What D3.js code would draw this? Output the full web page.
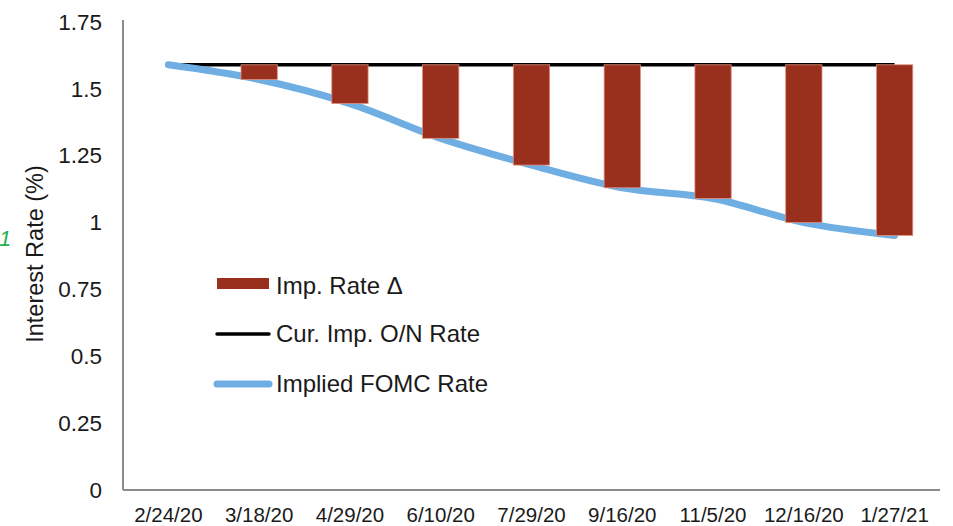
<!DOCTYPE html>
<html>
<head>
<meta charset="utf-8">
<script src="https://cdn.jsdelivr.net/npm/d3@7"></script>
<style>
  html, body { margin: 0; padding: 0; background: #fff; }
  svg { display: block; font-family: "Liberation Sans", Arial, sans-serif; }
</style>
</head>
<body>
<svg id="chart" width="953" height="526"></svg>
<script>
// Meeting dates on the category axis
const meetingDates = ["2/24/20", "3/18/20", "4/29/20", "6/10/20", "7/29/20",
                      "9/16/20", "11/5/20", "12/16/20", "1/27/21"];
// Current implied overnight rate (flat reference line)
const currentRate = [1.59, 1.59, 1.59, 1.59, 1.59, 1.59, 1.59, 1.59, 1.59];
// Implied FOMC rate after each meeting
const impliedRate = [1.59, 1.535, 1.445, 1.315, 1.215, 1.13, 1.09, 1.0, 0.952];
// Implied change versus the current rate
const rateChange = [0, -0.055, -0.145, -0.275, -0.375, -0.46, -0.5, -0.59, -0.638];
// Value-axis ticks
const yTicks = [0, 0.25, 0.5, 0.75, 1, 1.25, 1.5, 1.75];
const yTickLabels = ["0", "0.25", "0.5", "0.75", "1", "1.25", "1.5", "1.75"];

const svg = d3.select("#chart");
const plotLeft = 123, plotRight = 940, plotTop = 22, plotBottom = 490;

const x = d3.scaleBand().domain(meetingDates).range([plotLeft, plotRight])
  .paddingInner(0.6).paddingOuter(0.3);
const y = d3.scaleLinear().domain([0, 1.75]).range([plotBottom, plotTop]);

const axisColor = "#8c8c8c";
const textColor = "#1a1a1a";

// Value axis
const yAxis = svg.append("g").attr("transform", `translate(${plotLeft},0)`)
  .call(d3.axisLeft(y).tickValues(yTicks)
    .tickFormat((d, i) => yTickLabels[i]).tickSize(0).tickPadding(21));
yAxis.select(".domain").attr("stroke", axisColor).attr("stroke-width", 2)
  .attr("d", `M0,${plotTop - 2}V${plotBottom}`);
yAxis.selectAll("text").attr("font-size", 22.5).attr("fill", textColor)
  .attr("font-family", "Liberation Sans, Arial, sans-serif");

// Category axis
const xAxis = svg.append("g").attr("transform", `translate(0,${plotBottom})`)
  .call(d3.axisBottom(x).tickSize(0).tickPadding(17));
xAxis.select(".domain").attr("stroke", axisColor).attr("stroke-width", 2)
  .attr("d", `M${plotLeft},0H${plotRight}`);
xAxis.selectAll("text").attr("font-size", 20.5).attr("fill", textColor)
  .attr("font-family", "Liberation Sans, Arial, sans-serif");

// Axis title
svg.append("text")
  .attr("transform", "translate(43,254) rotate(-90)")
  .attr("text-anchor", "middle")
  .attr("font-size", 23.5).attr("fill", textColor)
  .text("Interest Rate (%)");

// Stray cell marker on the left edge
svg.append("text")
  .attr("x", -1).attr("y", 246)
  .attr("font-size", 22).attr("font-style", "italic")
  .attr("fill", "#27ae4f")
  .text("1");

const cx = d => x(d) + x.bandwidth() / 2;

// Current implied O/N rate line
svg.append("path")
  .datum(meetingDates.map((d, i) => [cx(d), y(currentRate[i])]))
  .attr("fill", "none").attr("stroke", "#000").attr("stroke-width", 3.5)
  .attr("d", d3.line());

// Implied FOMC rate curve
svg.append("path")
  .datum(meetingDates.map((d, i) => [cx(d), y(impliedRate[i])]))
  .attr("fill", "none").attr("stroke", "#6faee3").attr("stroke-width", 7)
  .attr("stroke-linecap", "round").attr("stroke-linejoin", "round")
  .attr("d", d3.line().curve(d3.curveCatmullRom.alpha(0.5)));

// Implied change bars, hanging from the current rate
svg.append("g").selectAll("rect")
  .data(meetingDates)
  .join("rect")
  .attr("x", d => x(d))
  .attr("width", x.bandwidth())
  .attr("y", (d, i) => y(currentRate[i]))
  .attr("height", (d, i) => y(currentRate[i] + rateChange[i]) - y(currentRate[i]))
  .attr("fill", "#99301d")
  .attr("stroke", "#e0907e").attr("stroke-width", 0.8);

// Legend
const lg = svg.append("g").attr("font-size", 24).attr("fill", textColor);
lg.append("rect").attr("x", 217).attr("y", 278).attr("width", 52).attr("height", 11)
  .attr("fill", "#99301d");
lg.append("text").attr("x", 276).attr("y", 286).attr("dy", "0.35em").text("Imp. Rate Δ");

lg.append("line").attr("x1", 217).attr("x2", 269).attr("y1", 334).attr("y2", 334)
  .attr("stroke", "#000").attr("stroke-width", 3.5).attr("stroke-linecap", "round");
lg.append("text").attr("x", 276).attr("y", 334).attr("dy", "0.35em").text("Cur. Imp. O/N Rate");

lg.append("line").attr("x1", 217).attr("x2", 269).attr("y1", 384).attr("y2", 384)
  .attr("stroke", "#6faee3").attr("stroke-width", 7).attr("stroke-linecap", "round");
lg.append("text").attr("x", 276).attr("y", 384).attr("dy", "0.35em").text("Implied FOMC Rate");
</script>
</body>
</html>
